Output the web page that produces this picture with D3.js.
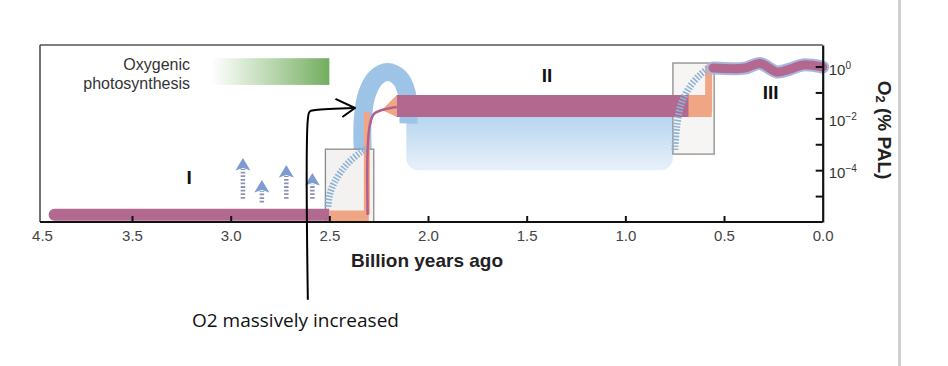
<!DOCTYPE html>
<html>
<head>
<meta charset="utf-8">
<script src="https://cdn.jsdelivr.net/npm/d3@7"></script>
<style>
  html, body { margin: 0; padding: 0; background: #fff; }
  svg { display: block; font-family: "Liberation Sans", Arial, sans-serif; }
</style>
</head>
<body>
<svg width="948" height="366"></svg>
<script>
// ages in billion years ago (Ga), oxygen as log10 of % PAL
const xTicks = [4.5, 3.5, 3.0, 2.5, 2.0, 1.5, 1.0, 0.5, 0.0];
const yTicks = [0, -1, -2, -3, -4, -5];
const yLabelled = [0, -2, -4];

const photosynthesis = { from: 3.1, to: 2.5, hi: 0.32, lo: -0.71 };

const stage1Band = [[4.36, -5.72], [2.5, -5.72]];
const stage2Band = [{ t: 2.158, lo: -1.95, hi: -1.1 }, { t: 0.68, lo: -1.95, hi: -1.1 }];
const stage3Line = [[0.556, -0.06], [0.394, -0.06], [0.318, 0.12], [0.232, -0.21],
                    [0.166, -0.1], [0.1, 0.06], [0.0, -0.02]];

const goeRise = [[2.306, -5.73], [2.306, -3.22], [2.295, -2.26], [2.274, -1.83],
                 [2.234, -1.68], [2.158, -1.56]];
const goeArch = [[2.331, -3.2], [2.331, -2.07], [2.311, -1.1], [2.265, -0.44], [2.205, -0.21],
                 [2.144, -0.44], [2.109, -0.98], [2.099, -1.68], [2.099, -2.2]];
const lomagundiPool = { from: 2.11, to: 0.76, hi: -1.2, lo: -4.0 };

const orangeBase = [[2.5, -5.77], [2.3, -5.77]];
const orangeRise1 = [[2.31, -5.7], [2.31, -1.75]];
const orangeWedge = [[2.234, -1.68], [2.158, -1.1], [2.158, -1.95]];
const orangeBand = [{ t: 2.158, lo: -1.95, hi: -1.1 }, { t: 0.562, lo: -1.95, hi: -1.1 }];
const orangeRise2 = [[0.578, -1.7], [0.578, -0.05]];

const hatch1 = [[2.507, -5.41], [2.499, -4.96], [2.473, -4.45], [2.414, -3.8], [2.338, -3.29], [2.306, -3.15]];
const hatch2 = [[0.749, -3.22], [0.74, -2.32], [0.715, -1.41], [0.673, -0.78], [0.622, -0.33], [0.58, -0.07]];

const boxes = [
  { from: 2.52, to: 2.275, hi: -3.19, lo: -6 },
  { from: 0.759, to: 0.55, hi: 0.135, lo: -3.38 }
];

// whiffs of oxygen before the GOE
const whiffs = [
  { t: 2.938, top: -3.53, bottom: -5.1 },
  { t: 2.842, top: -4.38, bottom: -5.25 },
  { t: 2.718, top: -3.8, bottom: -5.1 },
  { t: 2.586, top: -4.11, bottom: -5.1 }
];

const stageLabels = [
  { name: "I", t: 3.21, v: -4.27 },
  { name: "II", t: 1.397, v: -0.35 },
  { name: "III", t: 0.264, v: -1.0 }
];

const note = [[2.609, -9.0], [2.609, -2.05], [2.6, -1.74], [2.57, -1.68], [2.37, -1.6]];
const noteHead = [[2.469, -1.25], [2.37, -1.6], [2.434, -1.95]];

const svg = d3.select("svg");
const x = d3.scaleLinear().domain([4.5, 3.5, 0]).range([42, 132, 822.7]);
const y = d3.scaleLog().domain([1e-6, Math.pow(10, 0.83)]).range([222, 45]);
const yv = v => y(Math.pow(10, v));

const line = d3.line().x(d => x(d[0])).y(d => yv(d[1]));
const smooth = d3.line().x(d => x(d[0])).y(d => yv(d[1])).curve(d3.curveCatmullRom);
const band = d3.area().x(d => x(d.t)).y0(d => yv(d.lo)).y1(d => yv(d.hi));

const defs = svg.append("defs");
const gGreen = defs.append("linearGradient").attr("id", "green");
gGreen.append("stop").attr("offset", 0).attr("stop-color", "#7db56a").attr("stop-opacity", 0);
gGreen.append("stop").attr("offset", 1).attr("stop-color", "#72ad5e");
const gBlue = defs.append("linearGradient").attr("id", "pool")
  .attr("x1", 0).attr("x2", 0).attr("y1", 0).attr("y2", 1);
gBlue.append("stop").attr("offset", 0).attr("stop-color", "#a6cbec");
gBlue.append("stop").attr("offset", 1).attr("stop-color", "#e8f1fa");

// frame
svg.append("line").attr("x1", 40).attr("x2", 822.7).attr("y1", 45).attr("y2", 45)
  .attr("stroke", "#555").attr("stroke-width", 1.5);
svg.append("line").attr("x1", 40).attr("x2", 40).attr("y1", 45).attr("y2", 222)
  .attr("stroke", "#444").attr("stroke-width", 1.5);

// oxygenic photosynthesis
svg.append("rect")
  .attr("x", x(photosynthesis.from)).attr("width", x(photosynthesis.to) - x(photosynthesis.from))
  .attr("y", yv(photosynthesis.hi)).attr("height", yv(photosynthesis.lo) - yv(photosynthesis.hi))
  .attr("fill", "url(#green)");
const ox = svg.append("text").attr("text-anchor", "end").attr("font-size", 16).attr("fill", "#333");
ox.append("tspan").attr("x", 190).attr("y", 70).text("Oxygenic");
ox.append("tspan").attr("x", 190).attr("y", 89).text("photosynthesis");

// blue pool under stage II
svg.append("rect")
  .attr("x", x(lomagundiPool.from)).attr("width", x(lomagundiPool.to) - x(lomagundiPool.from))
  .attr("y", yv(lomagundiPool.hi)).attr("height", yv(lomagundiPool.lo) - yv(lomagundiPool.hi))
  .attr("rx", 12).attr("fill", "url(#pool)");

svg.append("path").attr("d", smooth(goeArch))
  .attr("fill", "none").attr("stroke", "#9dc4e7").attr("stroke-width", 18);

svg.selectAll(".box").data(boxes).enter().append("rect")
  .attr("class", "box")
  .attr("x", d => x(d.from)).attr("width", d => x(d.to) - x(d.from))
  .attr("y", d => yv(d.hi)).attr("height", d => yv(d.lo) - yv(d.hi))
  .attr("fill", "#f4f2f0").attr("fill-opacity", (d, i) => i ? 0.8 : 1)
  .attr("stroke", "#8c8c8c").attr("stroke-width", 1.3);

// stage I
svg.append("path").attr("d", line(stage1Band))
  .attr("stroke", "#b3688f").attr("stroke-width", 12).attr("stroke-linecap", "round");
svg.append("rect").attr("x", x(2.5)).attr("y", yv(-5.72) - 7).attr("width", 10).attr("height", 14)
  .attr("fill", "#f4f2f0");

// orange
const orange = "#f0a684";
svg.append("path").attr("d", line(orangeBase)).attr("stroke", orange).attr("stroke-width", 11);
svg.append("path").attr("d", line(orangeRise1)).attr("stroke", orange).attr("stroke-width", 6);
svg.append("path").attr("d", line(orangeWedge) + "Z").attr("fill", orange);
svg.append("path").attr("d", band(orangeBand)).attr("fill", orange);
svg.append("path").attr("d", line(orangeRise2)).attr("stroke", orange)
  .attr("stroke-width", 7).attr("stroke-linecap", "round");

// stage II
svg.append("path").attr("d", band(stage2Band)).attr("fill", "#b3688f");

// hatched curves
svg.selectAll(".hatch").data([hatch1, hatch2]).enter().append("path")
  .attr("class", "hatch")
  .attr("d", smooth).attr("fill", "none")
  .attr("stroke", "#8db3d6").attr("stroke-width", 7).attr("stroke-dasharray", "1.6,1.6");

svg.append("path").attr("d", smooth(goeRise)).attr("fill", "none")
  .attr("stroke", "#b0608c").attr("stroke-width", 2.5);

// stage III
svg.append("path").attr("d", smooth(stage3Line)).attr("fill", "none")
  .attr("stroke", "#a9b6e0").attr("stroke-width", 13).attr("stroke-linecap", "round");
svg.append("path").attr("d", smooth(stage3Line)).attr("fill", "none")
  .attr("stroke", "#b3688f").attr("stroke-width", 9).attr("stroke-linecap", "round");

// whiff arrows
const w = svg.selectAll(".whiff").data(whiffs).enter().append("g").attr("class", "whiff");
w.append("line")
  .attr("x1", d => x(d.t)).attr("x2", d => x(d.t))
  .attr("y1", d => yv(d.bottom)).attr("y2", d => yv(d.top) + 11)
  .attr("stroke", "#8a94b2").attr("stroke-width", 4.5).attr("stroke-dasharray", "1.8,1.8");
w.append("path")
  .attr("transform", d => `translate(${x(d.t)},${yv(d.top)})`)
  .attr("d", "M0,0L7.5,12.5L0,10L-7.5,12.5Z")
  .attr("fill", "#7e9cd2");

// axes
const xAxis = svg.append("g")
  .attr("transform", "translate(0,222)")
  .call(d3.axisBottom(x).tickValues(xTicks).tickFormat(d3.format(".1f"))
    .tickSizeInner(-6).tickSizeOuter(0).tickPadding(8));
xAxis.select(".domain").attr("stroke", "#111").attr("stroke-width", 2.2)
  .attr("d", `M40,0H${x(0)}`);
xAxis.selectAll(".tick line").attr("stroke", "#111").attr("stroke-width", 2)
  .filter(d => d === 4.5 || d === 0).remove();
xAxis.selectAll("text").attr("font-size", 15).attr("fill", "#444")
  .attr("font-family", "Liberation Sans, Arial, sans-serif");

const yAxis = svg.append("g")
  .attr("transform", `translate(${x(0)},0)`)
  .call(d3.axisRight(y).tickValues(yTicks.map(e => Math.pow(10, e))).tickFormat("")
    .tickSizeInner(-7).tickSizeOuter(0));
yAxis.select(".domain").attr("stroke", "#111").attr("stroke-width", 2.2);
yAxis.selectAll(".tick line").attr("stroke", "#111").attr("stroke-width", 2);

const yl = svg.selectAll(".ylab").data(yLabelled).enter().append("text")
  .attr("class", "ylab")
  .attr("x", x(0) + 6).attr("y", d => yv(d) + 8)
  .attr("font-size", 15).attr("fill", "#333");
yl.append("tspan").text("10");
yl.append("tspan").attr("dy", -6).attr("font-size", 10).text(d => d === 0 ? "0" : "\u2212" + (-d));

svg.append("text").attr("x", 427).attr("y", 266.5).attr("text-anchor", "middle")
  .attr("font-size", 19).attr("font-weight", "bold").attr("fill", "#222")
  .text("Billion years ago");

const yt = svg.append("text")
  .attr("transform", "translate(885,130) rotate(90)")
  .attr("text-anchor", "middle").attr("dominant-baseline", "central")
  .attr("font-size", 19).attr("font-weight", "bold").attr("fill", "#222");
yt.append("tspan").text("O");
yt.append("tspan").attr("font-size", 13).attr("dy", 4).text("2");
yt.append("tspan").attr("dy", -4).text(" (% PAL)");

svg.selectAll(".stage").data(stageLabels).enter().append("text")
  .attr("class", "stage")
  .attr("x", d => x(d.t)).attr("y", d => yv(d.v))
  .attr("text-anchor", "middle").attr("dominant-baseline", "central")
  .attr("font-size", 19).attr("font-weight", "bold").attr("fill", "#111")
  .text(d => d.name);

// annotation
svg.append("path").attr("d", smooth(note)).attr("fill", "none")
  .attr("stroke", "#000").attr("stroke-width", 2);
svg.append("path").attr("d", line(noteHead)).attr("fill", "none")
  .attr("stroke", "#000").attr("stroke-width", 2).attr("stroke-linejoin", "round");
svg.append("text").attr("x", 192).attr("y", 327)
  .attr("font-family", "Open Sans, sans-serif").attr("font-size", 19).attr("fill", "#111")
  .text("O2 massively increased");

// page edge on the right
svg.append("line").attr("x1", 899.5).attr("x2", 899.5).attr("y1", 0).attr("y2", 366)
  .attr("stroke", "#cfcfcf").attr("stroke-width", 3);
</script>
</body>
</html>
